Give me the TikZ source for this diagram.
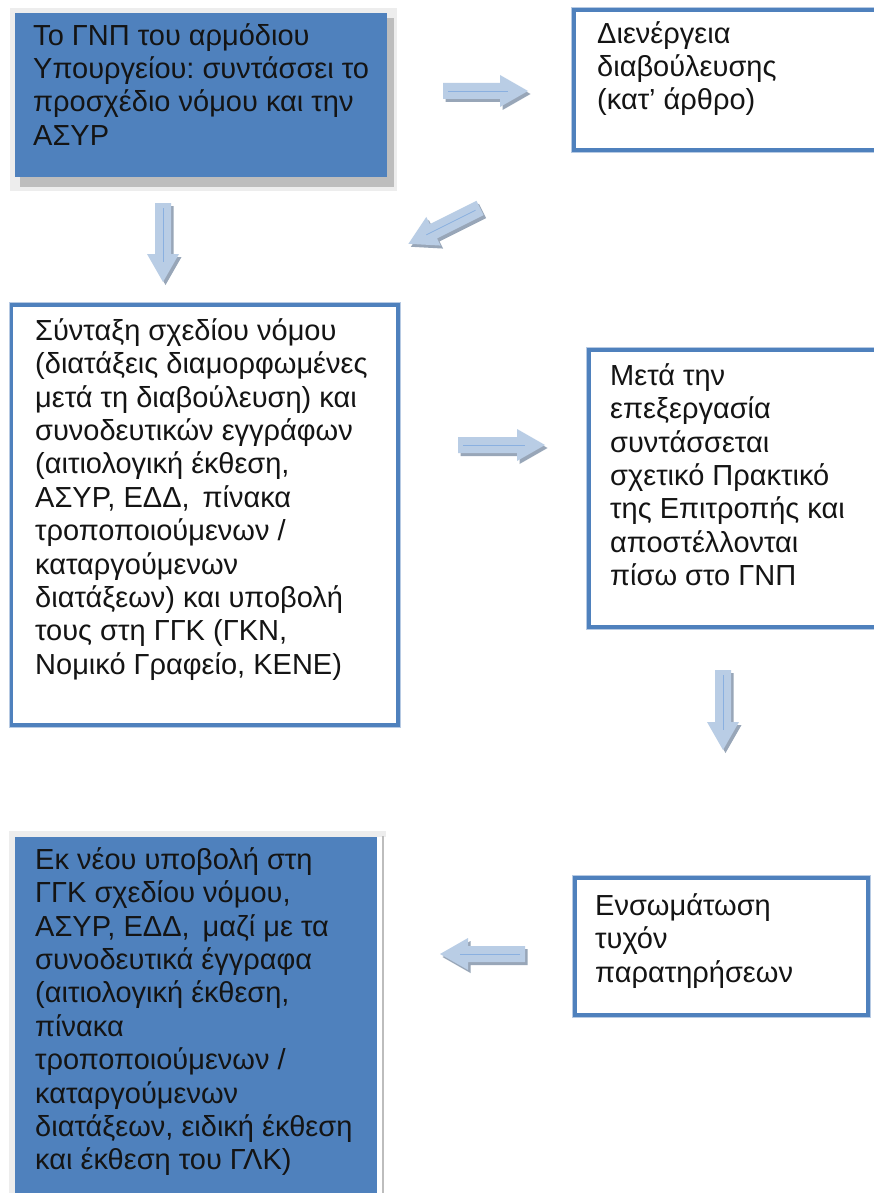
\documentclass[tikz,border=0pt]{standalone}
\usepackage{fontspec}
\setmainfont{Liberation Sans}
\frenchspacing
\usetikzlibrary{calc}
\definecolor{boxblue}{HTML}{4F81BD}
\definecolor{bordhalo}{HTML}{B7CAE3}
\definecolor{arrfill}{HTML}{B9CDE5}
\definecolor{arrshadow}{HTML}{98A6B8}
\definecolor{arrline}{HTML}{8AB0E0}
\definecolor{txtcol}{HTML}{141414}
\definecolor{halo}{HTML}{EDEDED}
\definecolor{shadowgray}{HTML}{BDBDBD}
\newcommand{\fl}{\rule{0pt}{26pt}}
\newcommand{\blockarrow}[3]{%
 \begin{scope}[shift={($(#1)+(2.5,3)$)},rotate=#2]
  \fill[arrshadow] (0,-8) -- ({#3-28},-8) -- ({#3-28},-16) -- (#3,0) -- ({#3-28},16) -- ({#3-28},8) -- (0,8) -- cycle;
 \end{scope}
 \begin{scope}[shift={(#1)},rotate=#2]
  \fill[arrfill] (0,-8) -- ({#3-28},-8) -- ({#3-28},-16) -- (#3,0) -- ({#3-28},16) -- ({#3-28},8) -- (0,8) -- cycle;
  \draw[arrline, line width=0.8pt] (5,0) -- ({#3-20},0);
 \end{scope}}
\begin{document}
\begin{tikzpicture}[x=1pt,y=-1pt,
  wbox/.style={draw=boxblue, line width=3.5pt, fill=white, inner sep=0pt, outer sep=0pt, anchor=north west, rectangle},
  fbox/.style={fill=boxblue, draw=none, inner sep=0pt, outer sep=0pt, anchor=north west, rectangle},
  txt/.style={anchor=north west, inner sep=0pt, align=left, text=txtcol, font={\fontsize{29}{33.4}\selectfont}}]
\useasboundingbox (0,0) rectangle (874,1193);
\clip (0,0) rectangle (874,1193);
\fill[white] (0,0) rectangle (874,1193);

% filled box 1 with shadow
\fill[halo] (10,8) rectangle (397,191);
\fill[shadowgray] (20,18) rectangle (394,187);
\node[fbox, minimum width=372pt, minimum height=164pt] (b1) at (15,13) {};
\node[txt] (t1) at (33,19) {\fl Το ΓΝΠ του αρμόδιου\\Υπουργείου: συντάσσει το\\προσχέδιο νόμου και την\\ΑΣΥΡ};

% box 2
\draw[bordhalo, line width=6pt] (574,10) rectangle (910,150);
\node[wbox, minimum width=336pt, minimum height=140pt] (b2) at (574,10) {};
\node[txt] (t2) at (597,17) {\fl Διενέργεια\\διαβούλευσης\\(κατ’ άρθρο)};

% box 3
\draw[bordhalo, line width=6pt] (11.5,305) rectangle (398,725);
\node[wbox, minimum width=386.5pt, minimum height=420pt] (b3) at (11.5,305) {};
\node[txt] (t3) at (35,314) {\fl Σύνταξη σχεδίου νόμου\\(διατάξεις διαμορφωμένες\\μετά τη διαβούλευση) και\\συνοδευτικών εγγράφων\\(αιτιολογική έκθεση,\\ΑΣΥΡ, ΕΔΔ,\, πίνακα\\τροποποιούμενων /\\καταργούμενων\\διατάξεων) και υποβολή\\τους στη ΓΓΚ (ΓΚΝ,\\Νομικό Γραφείο, ΚΕΝΕ)};

% box 4
\draw[bordhalo, line width=6pt] (589,350) rectangle (910,627);
\node[wbox, minimum width=321pt, minimum height=277pt] (b4) at (589,350) {};
\node[txt] (t4) at (610,359) {\fl Μετά την\\επεξεργασία\\συντάσσεται\\σχετικό Πρακτικό\\της Επιτροπής και\\αποστέλλονται\\πίσω στο ΓΝΠ};

% filled box 5
\fill[halo] (9,831) rectangle (386,1210);
\fill[white] (377,837) rectangle (386,1210);
\node[fbox, minimum width=362pt, minimum height=373pt] (b5) at (15,837) {};
\draw[shadowgray, line width=2pt] (383,836) -- (383,1210);
\node[txt] (t5) at (35,843) {\fl Εκ νέου υποβολή στη\\ΓΓΚ σχεδίου νόμου,\\ΑΣΥΡ, ΕΔΔ,\, μαζί με τα\\συνοδευτικά έγγραφα\\(αιτιολογική έκθεση,\\πίνακα\\τροποποιούμενων /\\καταργούμενων\\διατάξεων, ειδική έκθεση\\και έκθεση του ΓΛΚ)};

% box 6
\draw[bordhalo, line width=6pt] (575,878) rectangle (868,1015);
\node[wbox, minimum width=293pt, minimum height=137pt] (b6) at (575,878) {};
\node[txt] (t6) at (595,889) {\fl Ενσωμάτωση\\τυχόν\\παρατηρήσεων};

% arrows
\coordinate (a1) at (443,91);
\coordinate (a2) at (480,208);
\coordinate (a3) at (163,203);
\coordinate (a4) at (458,445);
\coordinate (a5) at (723,670);
\coordinate (a6) at (525,954);
\blockarrow{a1}{0}{85}
\blockarrow{a2}{206.57}{80}
\blockarrow{a3}{-90}{79}
\blockarrow{a4}{0}{87}
\blockarrow{a5}{-90}{80}
\blockarrow{a6}{180}{85}
\end{tikzpicture}
\end{document}
